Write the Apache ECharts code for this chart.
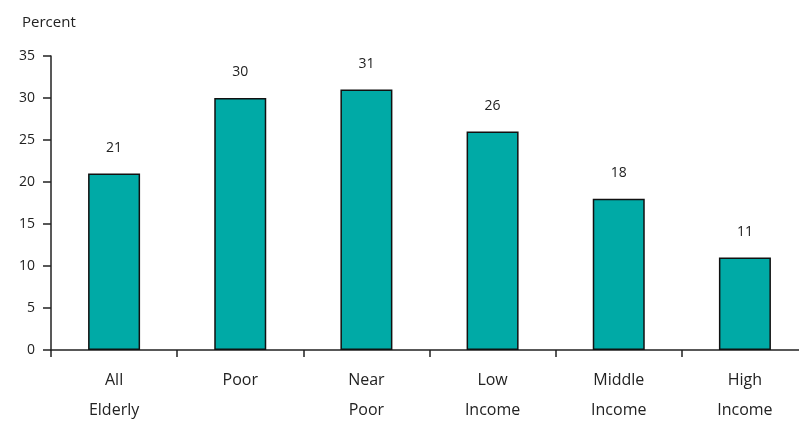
<!DOCTYPE html>
<html>
<head>
<meta charset="utf-8">
<script src="https://cdn.jsdelivr.net/npm/echarts@6/dist/echarts.min.js"></script>
<style>
  html, body { margin: 0; padding: 0; background: #fff; overflow: hidden; }
  #chart { width: 810px; height: 425px; }
</style>
</head>
<body>
<div id="chart"></div>
<script>
// Share of elderly by income group
const categories = ['All\nElderly', 'Poor', 'Near\nPoor', 'Low\nIncome', 'Middle\nIncome', 'High\nIncome'];
const values = [21, 30, 31, 26, 18, 11];
const yTicks = { min: 0, max: 35, interval: 5 };

const font = '"Open Sans", "Noto Sans", sans-serif';
const chart = echarts.init(document.getElementById('chart'));
chart.setOption({
  animation: false,
  grid: { left: 51, right: 2, top: 56, bottom: 72 },
  xAxis: {
    type: 'category',
    data: categories,
    axisLine: { lineStyle: { color: '#222', width: 1.5 } },
    axisTick: { show: true, length: 7, inside: false, lineStyle: { color: '#222', width: 1.5 } },
    axisLabel: { color: '#222', fontFamily: font, fontSize: 16, lineHeight: 30, margin: 15 }
  },
  yAxis: {
    type: 'value',
    min: yTicks.min, max: yTicks.max, interval: yTicks.interval,
    name: 'Percent',
    nameLocation: 'end',
    nameGap: 26,
    nameTextStyle: { color: '#222', fontFamily: font, fontSize: 15, align: 'left', padding: [0, 0, 0, -29] },
    axisLine: { show: true, lineStyle: { color: '#222', width: 1.5 } },
    axisTick: { show: true, length: 8, lineStyle: { color: '#222', width: 1.5 } },
    splitLine: { show: false },
    axisLabel: { color: '#222', fontFamily: font, fontSize: 14, margin: 16 }
  },
  series: [{
    type: 'bar',
    data: values,
    barWidth: 52,
    itemStyle: { color: '#00aaa6', borderColor: '#111', borderWidth: 1.5 },
    label: { show: true, position: 'top', distance: 19, color: '#222', fontFamily: font, fontSize: 14 }
  }]
});
</script>
</body>
</html>
